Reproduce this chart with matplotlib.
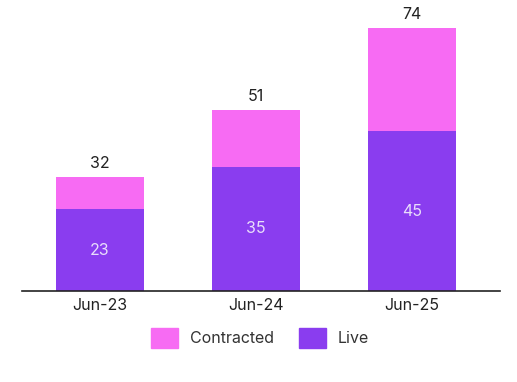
import matplotlib
matplotlib.use("Agg")
import matplotlib.pyplot as plt
from matplotlib.patches import Patch

categories = ["Jun-23", "Jun-24", "Jun-25"]
live = [23, 35, 45]
total = [32, 51, 74]
contracted = [t - l for t, l in zip(total, live)]

pink = "#F76BF3"
purple = "#8A3DEF"
plt.rcParams['font.family'] = ['Inter', 'DejaVu Sans']

fig = plt.figure(figsize=(5.17, 3.82), dpi=100)
fig.patch.set_facecolor("white")
ax = fig.add_axes([22/517, (382-291)/382, 478/517, 284/382])
ax.set_facecolor("white")

x = list(range(len(categories)))
w = 0.56
ax.bar(x, live, width=w, color=purple, label="Live")
ax.bar(x, contracted, width=w, bottom=live, color=pink, label="Contracted")

for xi, l, t in zip(x, live, total):
    ax.text(xi, l/2, str(l), ha="center", va="center", color="#E8DDFB", fontsize=11.5)
    ax.text(xi, t + 1.8, str(t), ha="center", va="bottom", color="#222222", fontsize=11.5)

ax.set_xlim(-0.5, 2.564)
ax.set_ylim(0, 80)
ax.set_xticks(x)
ax.set_xticklabels(categories, fontsize=11.5, color="#222222")
ax.tick_params(axis="x", length=0, pad=5)
ax.set_yticks([])
for s in ["top", "right", "left"]:
    ax.spines[s].set_visible(False)
ax.spines["bottom"].set_color("#222222")
ax.spines["bottom"].set_linewidth(1.2)

handles = [Patch(color=pink, label="Contracted"), Patch(color=purple, label="Live")]
fig.legend(handles=handles, loc="center", bbox_to_anchor=(260/517, 1 - 338/382), ncol=2,
           frameon=False, fontsize=11.5, handlelength=1.7, handleheight=1.5,
           columnspacing=1.6, handletextpad=0.7, labelcolor="#333333")

fig.savefig("out.png", dpi=100)
